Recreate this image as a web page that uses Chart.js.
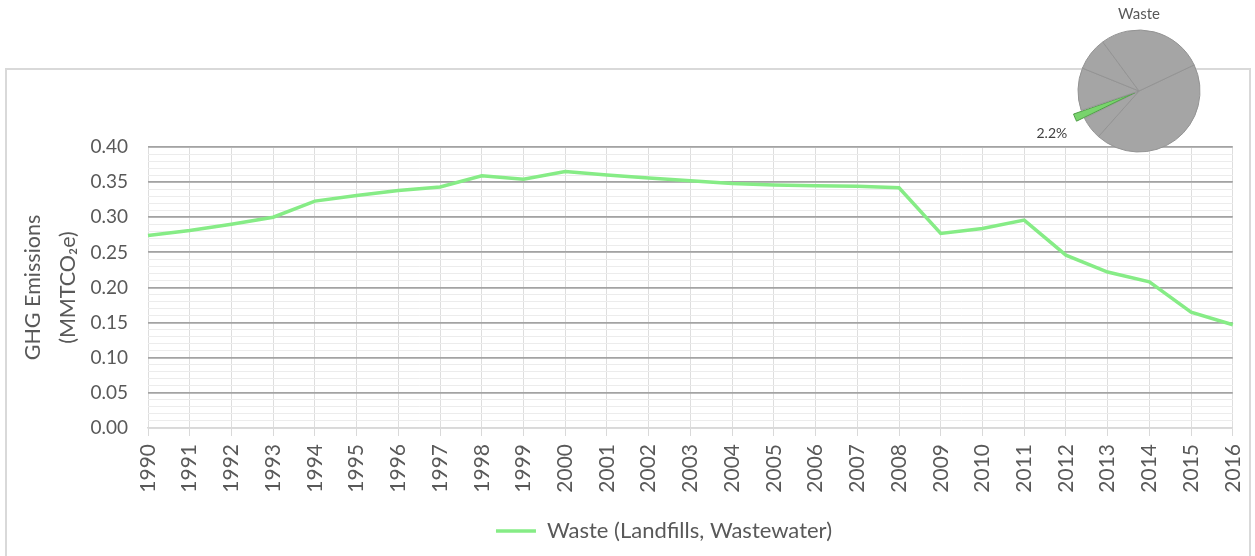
<!DOCTYPE html>
<html>
<head>
<meta charset="utf-8">
<script src="https://cdn.jsdelivr.net/npm/chart.js@4.4.1/dist/chart.umd.min.js"></script>
<style>
  html, body { margin: 0; padding: 0; background: #fff; }
  body { width: 1255px; height: 556px; position: relative; overflow: hidden; }
  .box { position: absolute; left: 5px; top: 68px; width: 1242px; height: 520px; border: 2px solid #d9d9d9; }
  #main { position: absolute; left: 8px; top: 71px; }
  #pie { position: absolute; left: 1029px; top: 0px; }
</style>
</head>
<body>
<div class="box"></div>
<canvas id="main" width="1258" height="485"></canvas>
<canvas id="pie" width="220" height="180"></canvas>
<script>
// waste emissions 1990-2016, MMTCO2e
var years = ["1990", "1991", "1992", "1993", "1994", "1995", "1996", "1997", "1998", "1999",
  "2000", "2001", "2002", "2003", "2004", "2005", "2006", "2007", "2008", "2009",
  "2010", "2011", "2012", "2013", "2014", "2015", "2016"];
var waste = [0.274, 0.281, 0.290, 0.300, 0.323, 0.331, 0.338, 0.343, 0.359, 0.354,
  0.365, 0.360, 0.356, 0.352, 0.348, 0.346, 0.345, 0.344, 0.342, 0.277,
  0.284, 0.296, 0.246, 0.222, 0.208, 0.165, 0.147];
var seriesName = "Waste (Landfills, Wastewater)";
var yTitle = ["GHG Emissions", "(MMTCO\u2082e)"];

// sector share pie (only the waste slice is labelled)
var pieLabels = ["Sector A", "Sector B", "Waste", "Sector C", "Sector D", "Sector E"];
var pieShares = [43.6, 6.05, 2.2, 11.3, 8.75, 28.1];
var pieTitle = "Waste";

var grey = "#595959";
var font = "Lato, 'Open Sans', sans-serif";

// legend sits a bit right of the canvas centre in the original
var nudgeLegend = {
  id: "nudgeLegend",
  afterLayout: function (chart) {
    chart.legend.left += 27;
    chart.legend.right += 27;
  }
};

new Chart(document.getElementById("main").getContext("2d"), {
  type: "line",
  data: {
    labels: years,
    datasets: [{
      label: seriesName,
      data: waste,
      borderColor: "rgb(134, 236, 134)",
      backgroundColor: "rgb(134, 236, 134)",
      borderWidth: 3.5,
      pointRadius: 0,
      pointStyle: "line",
      tension: 0
    }]
  },
  options: {
    responsive: false,
    animation: false,
    layout: { padding: { top: 76, right: 0, bottom: 4, left: 0 } },
    plugins: {
      tooltip: { enabled: false },
      legend: {
        position: "bottom",
        labels: {
          usePointStyle: true,
          pointStyleWidth: 40,
          boxHeight: 19,
          color: grey,
          font: { family: font, size: 22 },
          padding: 10
        }
      }
    },
    scales: {
      x: {
        grid: { color: "#dedede", lineWidth: 1, drawTicks: true, tickLength: 8, tickColor: "#d9d9d9" },
        border: { color: "#d9d9d9", width: 1.5 },
        ticks: { color: grey, font: { family: font, size: 21 }, minRotation: 90, maxRotation: 90, autoSkip: false, padding: 8 },
        afterFit: function (s) { s.height = 82; }
      },
      yMinor: {
        position: "left",
        min: 0, max: 0.4, z: -1,
        grid: { color: "#ececec", lineWidth: 1, drawTicks: false },
        border: { display: false },
        ticks: { display: false, stepSize: 0.01 },
        afterFit: function (s) { s.width = 0; }
      },
      y: {
        position: "left",
        min: 0, max: 0.4,
        grid: {
          color: function (c) { return c.tick && c.tick.value === 0 ? "#d9d9d9" : "#a3a3a3"; },
          lineWidth: 1.8,
          drawTicks: false
        },
        border: { display: false },
        ticks: {
          stepSize: 0.05,
          color: grey,
          font: { family: font, size: 19 },
          padding: 20,
          callback: function (v) { return v.toFixed(2); }
        },
        title: {
          display: true,
          text: yTitle,
          color: grey,
          font: { family: font, size: 21.5, lineHeight: 1.6 },
          padding: { top: 8, bottom: 0 }
        },
        afterFit: function (s) { s.width = 140; }
      }
    }
  },
  plugins: [nudgeLegend]
});

var wasteLabel = {
  id: "wasteLabel",
  afterDraw: function (chart) {
    var arc = chart.getDatasetMeta(0).data[2];
    var a = (arc.startAngle + arc.endAngle) / 2 - 0.06;
    var r = arc.outerRadius + 36;
    var ctx = chart.ctx;
    ctx.save();
    ctx.fillStyle = "#404040";
    ctx.font = "14px " + font;
    ctx.textAlign = "center";
    ctx.textBaseline = "middle";
    ctx.fillText(pieShares[2].toFixed(1) + "%", arc.x + Math.cos(a) * r, arc.y + Math.sin(a) * r);
    ctx.restore();
  }
};

new Chart(document.getElementById("pie").getContext("2d"), {
  type: "pie",
  data: {
    labels: pieLabels,
    datasets: [{
      data: pieShares,
      backgroundColor: ["#a5a5a5", "#a5a5a5", "#78d46c", "#a5a5a5", "#a5a5a5", "#a5a5a5"],
      borderColor: ["#939393", "#939393", "#4f9d47", "#939393", "#939393", "#939393"],
      borderWidth: 1,
      offset: [0, 0, 18, 0, 0, 0]
    }]
  },
  options: {
    responsive: false,
    animation: false,
    rotation: 64.7,
    radius: 61,
    layout: { padding: { bottom: 21 } },
    plugins: {
      legend: { display: false },
      tooltip: { enabled: false },
      title: {
        display: true,
        text: pieTitle,
        color: grey,
        font: { family: font, size: 15, weight: "normal" },
        padding: { top: 5, bottom: 0 }
      }
    }
  },
  plugins: [wasteLabel]
});
</script>
</body>
</html>
